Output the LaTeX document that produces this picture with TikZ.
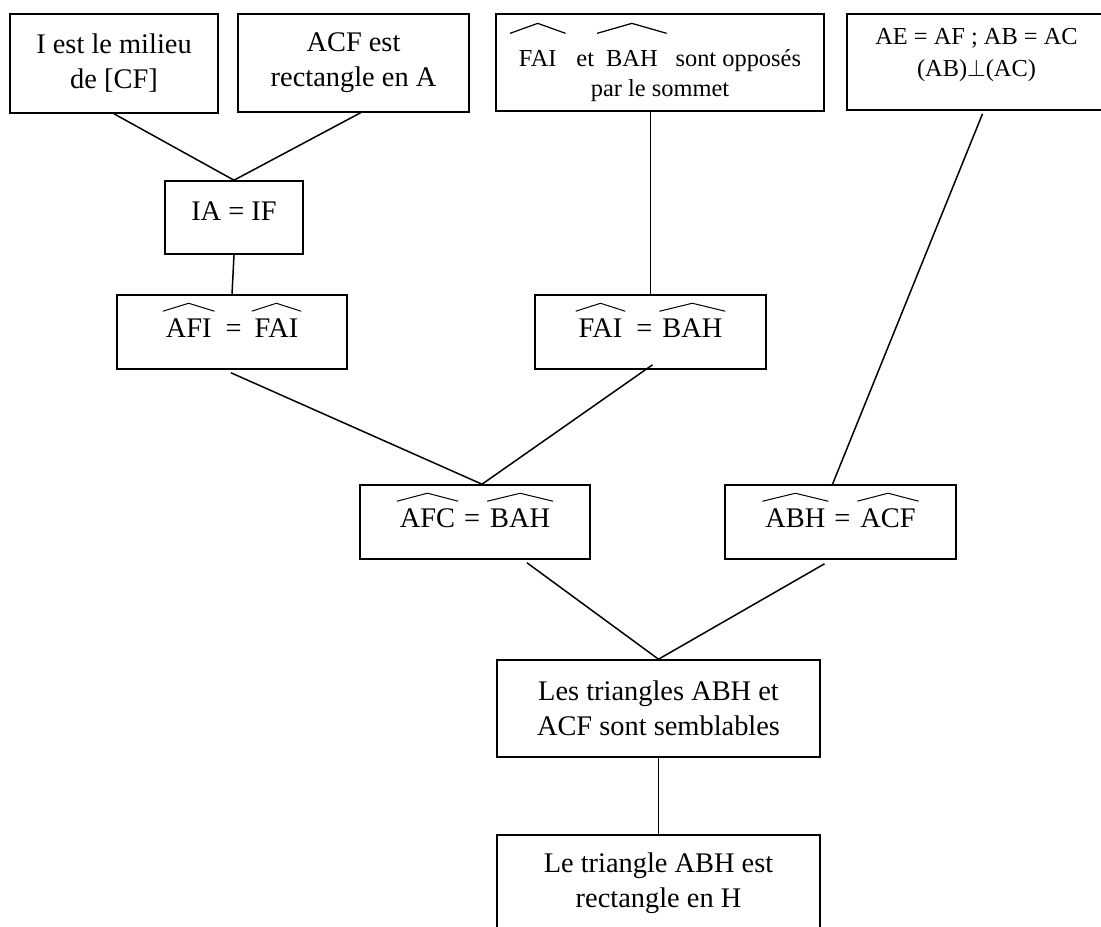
\documentclass[tikz,border=0pt]{standalone}
\usepackage{fontspec}
\setmainfont{Liberation Serif}
\usepackage{graphicx}
\usepackage{pict2e}
\usetikzlibrary{calc}

\newcommand\bigtxt{\fontsize{14.2pt}{17.5pt}\selectfont}
\newcommand\smalltxt{\fontsize{12.2pt}{15pt}\selectfont}
\newlength\hatext
\newlength\hatraise
\newlength\hatht
\setlength\hatext{1.5pt}
\setlength\hatraise{3.5pt}
\setlength\hatht{4pt}
% wide hat over an angle name
\newcommand\hatang[1]{{\setbox0\hbox{#1}%
  \leavevmode\kern-\hatext\rlap{\raisebox{\dimexpr\ht0+\hatraise\relax}{\resizebox{\dimexpr\wd0+2\hatext\relax}{\hatht}{\setlength\unitlength{1pt}\begin{picture}(28,4)\linethickness{0.5pt}\polyline(0,0)(14,4)(28,0)\end{picture}}}}\kern\hatext\box0}}

\begin{document}
\begin{tikzpicture}[x=0.5pt,y=0.5pt,yscale=-1,xscale=1,
  box/.style={draw,line width=0.8pt,inner sep=0pt,align=center,font=\bigtxt},
  oneline/.style={text height=21pt,text depth=16pt},
  small/.style={font={\smalltxt\setlength\hatext{4.5pt}\setlength\hatraise{8.5pt}\setlength\hatht{5pt}}},
  link/.style={line width=0.75pt}]
\useasboundingbox (0,0) rectangle (1101,926);
\clip (0,0) rectangle (1101,926);

%Shape: Rectangle
\node[box,minimum width=104pt,minimum height=49.5pt] (mil) at (114,63.5) {I est le milieu\\de [CF]};
%Shape: Rectangle
\node[box,minimum width=115.5pt,minimum height=49pt] (rect) at (353.5,63) {ACF est\\rectangle en A};
%Shape: Rectangle
\node[box,small,minimum width=164pt,minimum height=48.5pt] (opp) at (660,62.5) {\hatang{FAI}\hspace{10pt}et\hspace{6pt}\hatang{BAH}\hspace{9pt}sont opposés\\par le sommet};
%Shape: Rectangle
\node[box,small,font={\fontsize{12.2pt}{16pt}\selectfont},text depth=10pt,minimum width=129.5pt,minimum height=48pt] (perp) at (976.5,62) {AE = AF ; AB = AC\\(AB)$\perp$(AC)};

%Shape: Rectangle
\node[box,oneline,text height=19.5pt,text depth=17pt,minimum width=69pt,minimum height=36.5pt] (ia) at (234,217.5) {IA = IF};
%Shape: Rectangle
\node[box,oneline,minimum width=115pt,minimum height=37pt] (afi) at (232,332) {\hatang{AFI}\hspace{7pt}=\hspace{6.5pt}\hatang{FAI}};
%Shape: Rectangle
\node[box,oneline,minimum width=115.5pt,minimum height=37pt] (fai) at (650.5,332) {\hatang{FAI}\hspace{7pt}=\hspace{5pt}\hatang{BAH}};
%Shape: Rectangle
\node[box,oneline,minimum width=115pt,minimum height=37pt] (afc) at (475,522) {\hatang{AFC}\hspace{4.5pt}=\hspace{5pt}\hatang{BAH}};
%Shape: Rectangle
\node[box,oneline,minimum width=115.5pt,minimum height=36pt] (abh) at (840.5,522) {\hatang{ABH}\hspace{4.5pt}=\hspace{5pt}\hatang{ACF}};

%Shape: Rectangle
\node[box,minimum width=161.5pt,minimum height=48.5pt] (sem) at (658.5,708.5) {Les triangles ABH et\\ACF sont semblables};
%Shape: Rectangle
\node[box,minimum width=161.5pt,minimum height=48pt] (rec) at (658.5,883) {Le triangle ABH est\\rectangle en H};

%Straight Lines
\draw[link] (mil.south) -- (ia.north);
\draw[link] ($(rect.south)+(7,0)$) -- (ia.north);
\draw[link] (ia.south) -- (afi.north);
\draw[link] (opp.south -| fai.north) -- (fai.north);
\draw[link] ($(perp.south)+(6,3)$) -- ($(abh.north)+(-8,0)$);
%Straight Lines
\draw[link] ($(afi.south)+(-1,3)$) -- ($(afc.north)+(7,0)$);
\draw[link] ($(fai.south)+(2,-5)$) -- ($(afc.north)+(7,0)$);
\draw[link] ($(afc.south)+(52,3)$) -- (sem.north);
\draw[link] ($(abh.south)+(-16,4)$) -- (sem.north);
\draw[link] (sem.south) -- (rec.north);

\end{tikzpicture}
\end{document}
